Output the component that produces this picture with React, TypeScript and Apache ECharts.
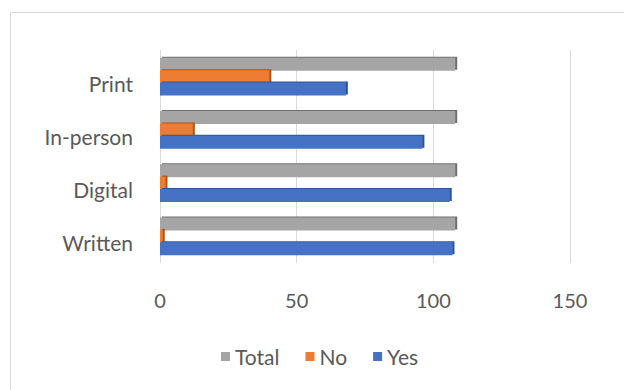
import React, { useEffect, useRef } from "react";
import * as echarts from "echarts";

const categories = ["Written", "Digital", "In-person", "Print"];
const yesValues = [107, 106, 96, 68];
const noValues = [1, 2, 12, 40];
const totalValues = [108, 108, 108, 108];
const xTicks = { min: 0, max: 150, interval: 50 };

const FONT = "Lato, 'Open Sans', sans-serif";
const TEXT = "#595959";

export default function App() {
  const ref = useRef<HTMLDivElement>(null);
  useEffect(() => {
    if (!ref.current) return;
    const chart = echarts.init(ref.current, undefined, { renderer: "svg" });
    const barStyle = (color: string, dark: string) => ({
      color,
      shadowColor: dark,
      shadowOffsetX: 2,
      shadowOffsetY: -1,
      shadowBlur: 0,
    });
    chart.setOption({
      animation: false,
      backgroundColor: "#ffffff",
      textStyle: { fontFamily: FONT },
      graphic: [
        {
          type: "rect",
          shape: { x: 10.5, y: 12.5, width: 640, height: 400 },
          style: { fill: "none", stroke: "#d9d9d9", lineWidth: 1 },
          silent: true,
        },
      ],
      grid: { left: 160, right: 54, top: 50, bottom: 127, containLabel: false },
      legend: {
        data: ["Total", "No", "Yes"],
        left: 216,
        top: 341,
        itemWidth: 9,
        itemHeight: 9,
        itemGap: 26,
        icon: "rect",
        textStyle: { color: TEXT, fontSize: 21, fontFamily: FONT },
      },
      xAxis: {
        type: "value",
        min: xTicks.min,
        max: xTicks.max,
        interval: xTicks.interval,
        axisLine: { show: false },
        axisTick: { show: false },
        splitLine: { show: true, lineStyle: { color: "#d9d9d9", width: 1 } },
        axisLabel: { color: TEXT, fontSize: 20, margin: 27, fontFamily: FONT },
      },
      yAxis: {
        type: "category",
        data: categories,
        axisLine: { show: false },
        axisTick: { show: false },
        axisLabel: {
          color: TEXT,
          fontSize: 21,
          margin: 27,
          fontFamily: FONT,
          verticalAlign: "top",
          lineHeight: 13,
        },
      },
      series: [
        {
          name: "Total",
          type: "bar",
          data: totalValues,
          barWidth: 13,
          barGap: "-5%",
          itemStyle: barStyle("#A5A5A5", "#6E6E6E"),
        },
        {
          name: "No",
          type: "bar",
          data: noValues,
          barWidth: 13,
          barGap: "-5%",
          itemStyle: barStyle("#ED7D31", "#A9521B"),
        },
        {
          name: "Yes",
          type: "bar",
          data: yesValues,
          barWidth: 13,
          barGap: "-5%",
          itemStyle: barStyle("#4472C4", "#2F5597"),
        },
      ],
    });
    return () => chart.dispose();
  }, []);
  return <div ref={ref} style={{ width: 624, height: 390, position: "absolute", left: 0, top: 0 }} />;
}
